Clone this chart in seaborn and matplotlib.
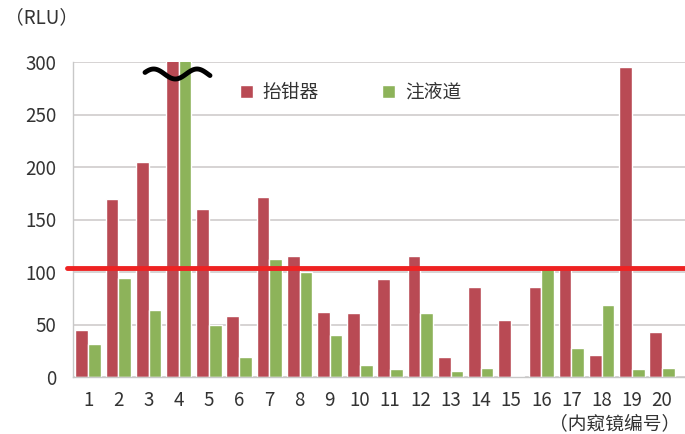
import numpy as np
import pandas as pd
import matplotlib
matplotlib.use("Agg")
import matplotlib.pyplot as plt
import seaborn as sns

endoscopes = [str(i) for i in range(1, 21)]
forceps_riser = [45, 170, 205, 320, 160, 58, 171, 115, 62, 61, 93, 115, 19, 86, 54, 86, 105, 21, 295, 43]
injection_channel = [31, 94, 64, 320, 50, 19, 112, 100, 40, 11, 8, 61, 6, 9, 1, 106, 28, 69, 8, 9]
series_names = ["抬钳器", "注液道"]
threshold = 104
yticks = [0, 50, 100, 150, 200, 250, 300]

sns.set_theme(style="white")
plt.rcParams['font.family'] = ['Noto Sans CJK SC', 'DejaVu Sans']

df = pd.DataFrame({
    "endoscope": endoscopes * 2,
    "series": [series_names[0]] * 20 + [series_names[1]] * 20,
    "value": forceps_riser + injection_channel,
})

fig = plt.figure(figsize=(6.85, 4.34), dpi=100)
ax = fig.add_axes([73 / 685, 1 - 377 / 434, 1 - 73 / 685, (377 - 62) / 434])

palette = {series_names[0]: "#b94a54", series_names[1]: "#8db35a"}
sns.barplot(data=df, x="endoscope", y="value", hue="series", palette=palette,
            width=0.84, saturation=1, ax=ax, order=endoscopes, legend=True)

ax.set_ylim(0, 300)
ax.set_xlim(-0.5, 19.76)
ax.set_yticks(yticks)
ax.set_yticklabels([str(t) for t in yticks])
ax.set_xlabel("")
ax.set_ylabel("")
ax.grid(axis="y", color="#d0cccc", linewidth=1.2)
ax.set_axisbelow(True)

for s in ["top", "right"]:
    ax.spines[s].set_visible(False)
ax.spines["left"].set_color("#c8c8c8")
ax.spines["bottom"].set_color("#c8c8c8")
ax.spines["left"].set_linewidth(1.0)
ax.spines["bottom"].set_linewidth(1.0)

# ticks between groups
ax.set_xticks(np.arange(20))
ax.set_xticklabels(endoscopes)
ax.set_xticks(np.arange(-0.5, 20, 1), minor=True)
ax.tick_params(axis="x", which="major", length=0, pad=9, labelsize=13.5, labelcolor="#333333")
ax.tick_params(axis="x", which="minor", length=5, color="#c8c8c8", width=1, direction="out")
ax.tick_params(axis="y", length=0, pad=12, labelsize=13.5, labelcolor="#333333")

# threshold line
ax.axhline(threshold, color="#ee2222", linewidth=3.5, xmin=-0.01, clip_on=False, zorder=5)

# legend
leg = ax.legend(loc="upper left", bbox_to_anchor=(0.245, 0.99), ncol=2, frameon=False,
                handlelength=0.7, handleheight=0.7, handletextpad=0.5, columnspacing=3.4,
                fontsize=13.5)
for t in leg.get_texts():
    t.set_color("#333333")

# break symbol on bar 4
xs = np.linspace(0, 1, 100)
wx = (145 + xs * 65) / 685
wy = 1 - (74 - 5 * np.sin(xs * 3 * np.pi + np.pi * 0.1)) / 434
fig.add_artist(plt.Line2D(wx, wy, color="black", linewidth=3.5, transform=fig.transFigure,
                          solid_capstyle="round"))

fig.text(5 / 685, 1 - 18 / 434, "（RLU）", fontsize=13.5, color="#333333", va="center", ha="left")
fig.text(680 / 685, 1 - 424 / 434, "（内窥镜编号）", fontsize=13.5, color="#333333", va="center", ha="right")

fig.savefig("out.png", dpi=100, facecolor="white")
